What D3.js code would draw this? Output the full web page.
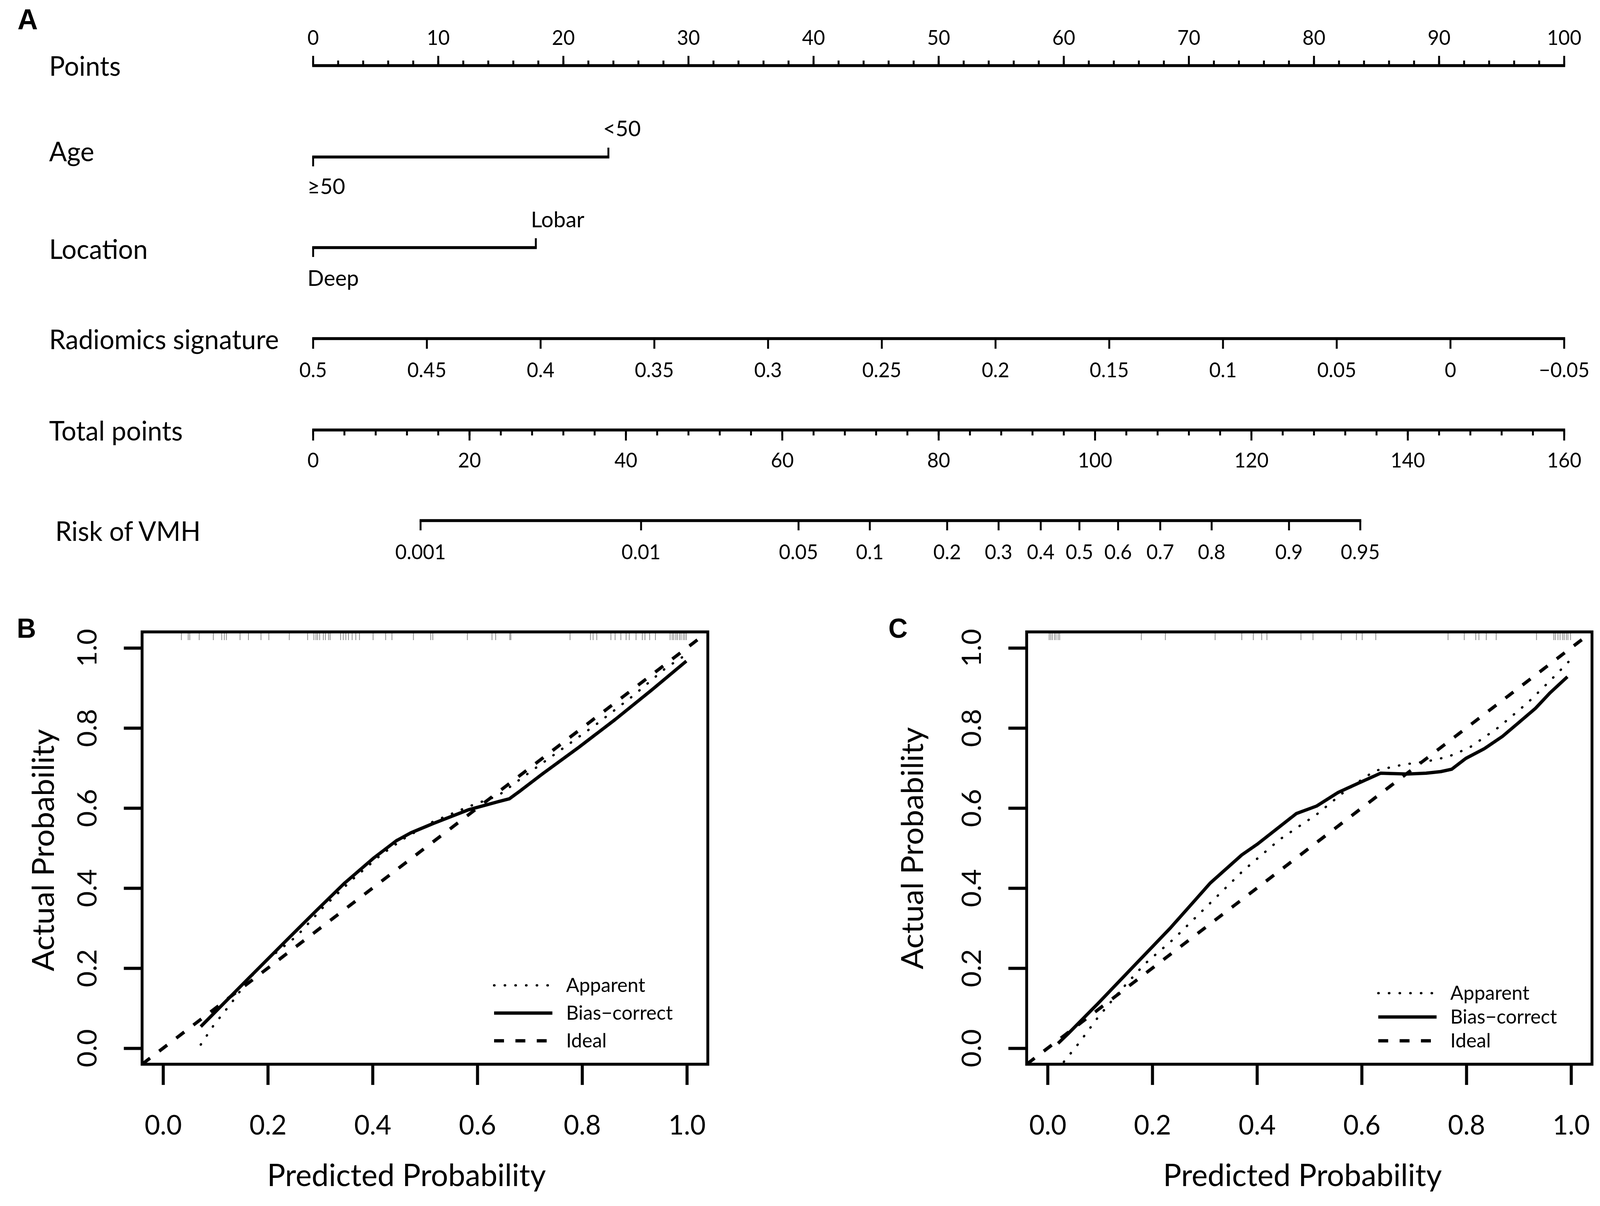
<!DOCTYPE html>
<html>
<head>
<meta charset="utf-8">
<script src="https://cdn.jsdelivr.net/npm/d3@7"></script>
<style>
  html, body { margin: 0; padding: 0; overflow: hidden; background: #fff; }
  svg { display: block; width: 100vw; height: 100vh; }
  text { font-family: Lato, "Open Sans", sans-serif; fill: #000; }
  .letter { font-family: "Liberation Sans", Arial, sans-serif; font-weight: bold; }
</style>
</head>
<body>
<svg id="fig" viewBox="0 0 4200 3088" preserveAspectRatio="none"></svg>
<script>
// ---------- Panel A : nomogram ----------
var pointsTicks = [0, 10, 20, 30, 40, 50, 60, 70, 80, 90, 100];
var ageLevels = ["≥50", "<50"];
var agePoints = [0, 23.6];
var locationLevels = ["Deep", "Lobar"];
var locationPoints = [0, 17.8];
var radiomicsTicks = [0.5, 0.45, 0.4, 0.35, 0.3, 0.25, 0.2, 0.15, 0.1, 0.05, 0, -0.05];
var radiomicsLabels = ["0.5", "0.45", "0.4", "0.35", "0.3", "0.25", "0.2", "0.15", "0.1", "0.05", "0", "−0.05"];
var totalTicks = [0, 20, 40, 60, 80, 100, 120, 140, 160];
var riskTicks = [0.001, 0.01, 0.05, 0.1, 0.2, 0.3, 0.4, 0.5, 0.6, 0.7, 0.8, 0.9, 0.95];
var riskLabels = ["0.001", "0.01", "0.05", "0.1", "0.2", "0.3", "0.4", "0.5", "0.6", "0.7", "0.8", "0.9", "0.95"];
// total points where risk = 0.5, and total points per unit of log-odds
var riskMidPoints = 98.0;
var riskPointsPerLogit = 12.2;

// ---------- Panels B / C : calibration ----------
var probTicks = [0, 0.2, 0.4, 0.6, 0.8, 1.0];
var probLabels = ["0.0", "0.2", "0.4", "0.6", "0.8", "1.0"];

var trainApparentX = [0.072, 0.096, 0.131, 0.166, 0.201, 0.256, 0.305, 0.361, 0.416, 0.458, 0.514, 0.584, 0.640, 0.688, 0.758, 0.828, 0.897, 0.960, 0.995];
var trainApparentY = [0.009, 0.056, 0.114, 0.176, 0.223, 0.281, 0.351, 0.421, 0.483, 0.522, 0.565, 0.604, 0.631, 0.678, 0.744, 0.810, 0.880, 0.950, 0.980];
var trainBiasX = [0.072, 0.103, 0.159, 0.236, 0.292, 0.347, 0.403, 0.445, 0.473, 0.515, 0.584, 0.640, 0.661, 0.682, 0.724, 0.793, 0.863, 0.933, 0.999];
var trainBiasY = [0.054, 0.095, 0.169, 0.270, 0.343, 0.413, 0.476, 0.518, 0.538, 0.561, 0.596, 0.616, 0.623, 0.643, 0.685, 0.751, 0.821, 0.895, 0.967];
var trainRug = [0.035, 0.048, 0.051, 0.069, 0.096, 0.112, 0.117, 0.121, 0.147, 0.163, 0.187, 0.202, 0.241, 0.276, 0.288, 0.292, 0.295, 0.299, 0.306, 0.310, 0.316, 0.319, 0.339, 0.344, 0.349, 0.354, 0.361, 0.368, 0.375, 0.401, 0.425, 0.437, 0.478, 0.511, 0.515, 0.581, 0.628, 0.635, 0.662, 0.664, 0.777, 0.816, 0.821, 0.828, 0.855, 0.863, 0.874, 0.884, 0.890, 0.903, 0.915, 0.920, 0.929, 0.940, 0.968, 0.972, 0.975, 0.979, 0.982, 0.986, 0.989, 0.993, 0.996, 0.999];

var testApparentX = [0.031, 0.060, 0.095, 0.137, 0.186, 0.241, 0.311, 0.374, 0.444, 0.514, 0.569, 0.625, 0.681, 0.723, 0.765, 0.806, 0.862, 0.918, 0.960, 0.995];
var testApparentY = [-0.034, 0.013, 0.075, 0.141, 0.211, 0.273, 0.363, 0.444, 0.522, 0.584, 0.643, 0.693, 0.709, 0.716, 0.728, 0.751, 0.802, 0.864, 0.918, 0.965];
var testBiasX = [0.020, 0.039, 0.095, 0.158, 0.235, 0.311, 0.371, 0.402, 0.475, 0.514, 0.555, 0.597, 0.636, 0.688, 0.723, 0.751, 0.772, 0.799, 0.834, 0.869, 0.897, 0.932, 0.960, 0.993];
var testBiasY = [0.012, 0.036, 0.110, 0.196, 0.301, 0.413, 0.483, 0.511, 0.586, 0.605, 0.639, 0.664, 0.687, 0.685, 0.687, 0.691, 0.697, 0.724, 0.748, 0.779, 0.810, 0.849, 0.888, 0.928];
var testRug = [0.003, 0.006, 0.009, 0.013, 0.016, 0.020, 0.023, 0.179, 0.225, 0.320, 0.371, 0.393, 0.409, 0.419, 0.484, 0.507, 0.561, 0.590, 0.601, 0.627, 0.765, 0.796, 0.818, 0.824, 0.838, 0.857, 0.934, 0.967, 0.970, 0.975, 0.979, 0.984, 0.987, 0.991, 0.994, 0.999];

var legendNames = ["Apparent", "Bias−correct", "Ideal"];

var svg = d3.select("#fig");

// panel letters
svg.append("text").attr("class", "letter").attr("x", 46).attr("y", 75).attr("font-size", 74).text("A");
svg.append("text").attr("class", "letter").attr("x", 44).attr("y", 1633).attr("font-size", 70).text("B");
svg.append("text").attr("class", "letter").attr("x", 2332).attr("y", 1633).attr("font-size", 70).text("C");

// ---------- nomogram ----------
var xPts = d3.scaleLinear().domain([0, 100]).range([822, 4106]);
var xTotal = d3.scaleLinear().domain([0, 160]).range([822, 4106]);
var xRad = d3.scaleLinear().domain([0.5, -0.05]).range([822, 4106]);
function riskToPoints(p) { return riskMidPoints + riskPointsPerLogit * Math.log(p / (1 - p)); }

var nomo = svg.append("g");
var hW = 7.5, vW = 5;

function rowLabel(text, x, y) {
  nomo.append("text").attr("x", x).attr("y", y).attr("font-size", 69).text(text);
}
function hLine(x1, x2, y) {
  nomo.append("line").attr("x1", x1 - vW / 2).attr("x2", x2 + vW / 2).attr("y1", y).attr("y2", y)
    .attr("stroke", "#000").attr("stroke-width", hW);
}
function ticks(xs, y, len) {
  nomo.append("g").selectAll("line").data(xs).join("line")
    .attr("x1", d => d).attr("x2", d => d).attr("y1", y).attr("y2", y + len)
    .attr("stroke", "#000").attr("stroke-width", vW);
}
function tickText(xs, labels, y, size) {
  nomo.append("g").selectAll("text").data(xs).join("text")
    .attr("x", d => d).attr("y", y).attr("text-anchor", "middle")
    .attr("font-size", size).text((d, i) => labels[i]);
}

// Points
rowLabel("Points", 129, 194);
hLine(xPts(0), xPts(100), 168);
ticks(d3.range(0, 101, 2).map(xPts), 168, -13);
ticks(pointsTicks.map(xPts), 168, -25);
tickText(pointsTicks.map(xPts), pointsTicks.map(String), 115, 52);

// Age
rowLabel("Age", 129, 413);
hLine(xPts(agePoints[0]), xPts(agePoints[1]), 402);
ticks([xPts(agePoints[0])], 402, 24);
ticks([xPts(agePoints[1])], 402, -24);
nomo.append("text").attr("x", xPts(agePoints[1]) - 14).attr("y", 349).attr("font-size", 57).text(ageLevels[1]);
nomo.append("text").attr("x", xPts(agePoints[0]) - 15).attr("y", 497).attr("font-size", 57).text(ageLevels[0]);

// Location
rowLabel("Location", 129, 663);
hLine(xPts(locationPoints[0]), xPts(locationPoints[1]), 634);
ticks([xPts(locationPoints[0])], 634, 24);
ticks([xPts(locationPoints[1])], 634, -24);
nomo.append("text").attr("x", xPts(locationPoints[1]) - 13).attr("y", 582).attr("font-size", 57).text(locationLevels[1]);
nomo.append("text").attr("x", xPts(locationPoints[0]) - 15).attr("y", 732).attr("font-size", 57).text(locationLevels[0]);

// Radiomics signature
rowLabel("Radiomics signature", 129, 894);
hLine(xRad(0.5), xRad(-0.05), 867);
ticks(radiomicsTicks.map(xRad), 867, 26);
tickText(radiomicsTicks.map(xRad), radiomicsLabels, 966, 52);

// Total points
rowLabel("Total points", 129, 1128);
hLine(xTotal(0), xTotal(160), 1101);
ticks(d3.range(0, 161, 4).map(xTotal), 1101, 14);
ticks(totalTicks.map(xTotal), 1101, 27);
tickText(totalTicks.map(xTotal), totalTicks.map(String), 1197, 52);

// Risk of VMH
rowLabel("Risk of VMH", 145, 1385);
var riskX = riskTicks.map(p => xTotal(riskToPoints(p)));
hLine(riskX[0], riskX[riskX.length - 1], 1333);
ticks(riskX, 1333, 25);
tickText(riskX, riskLabels, 1432, 52);

// ---------- calibration panels ----------
var lineStyles = [
  { dash: "1,27", w: 6, cap: "round" },   // apparent (dotted)
  { dash: null, w: 8.5, cap: "butt" },    // bias-corrected (solid)
  { dash: "26,30", w: 8.5, cap: "butt" }  // ideal (dashed)
];

function calPanel(cfg) {
  var x = d3.scaleLinear().domain([-0.04, 1.04]).range([cfg.left, cfg.right]);
  var y = d3.scaleLinear().domain([-0.04, 1.04]).range([cfg.bottom, cfg.top]);
  var g = svg.append("g");

  g.append("clipPath").attr("id", cfg.id + "-clip").append("rect")
    .attr("x", cfg.left).attr("y", cfg.top)
    .attr("width", cfg.right - cfg.left).attr("height", cfg.bottom - cfg.top);

  // rug of predicted probabilities along the top
  g.append("g").selectAll("line").data(cfg.rug).join("line")
    .attr("x1", d => x(d)).attr("x2", d => x(d))
    .attr("y1", cfg.top).attr("y2", cfg.top + 21)
    .attr("stroke", "#8a8a8a").attr("stroke-width", 2);

  var plot = g.append("g").attr("clip-path", "url(#" + cfg.id + "-clip)");
  var line = d3.line().x(d => x(d[0])).y(d => y(d[1]));
  var series = [d3.zip(cfg.appX, cfg.appY), d3.zip(cfg.biasX, cfg.biasY), [[-0.04, -0.04], [1.04, 1.04]]];

  plot.selectAll("path").data(series).join("path")
    .attr("d", line).attr("fill", "none").attr("stroke", "#000")
    .attr("stroke-width", (d, i) => lineStyles[i].w)
    .attr("stroke-dasharray", (d, i) => lineStyles[i].dash)
    .attr("stroke-linecap", (d, i) => lineStyles[i].cap)
    .attr("stroke-linejoin", "round");

  // box
  g.append("rect").attr("x", cfg.left).attr("y", cfg.top)
    .attr("width", cfg.right - cfg.left).attr("height", cfg.bottom - cfg.top)
    .attr("fill", "none").attr("stroke", "#000").attr("stroke-width", 7.5);

  // x axis
  var xa = g.append("g").attr("transform", "translate(0," + cfg.bottom + ")")
    .call(d3.axisBottom(x).tickValues(probTicks).tickSize(53).tickFormat((d, i) => probLabels[i]));
  xa.select(".domain").remove();
  xa.selectAll(".tick line").attr("stroke", "#000").attr("stroke-width", 8);
  xa.selectAll(".tick text").attr("dy", null).attr("y", 180).attr("font-size", 70)
    .attr("font-family", null);

  // y axis (labels rotated like base R)
  var ya = g.append("g").attr("transform", "translate(" + cfg.left + ",0)")
    .call(d3.axisLeft(y).tickValues(probTicks).tickSize(48).tickFormat(""));
  ya.select(".domain").remove();
  ya.selectAll(".tick line").attr("stroke", "#000").attr("stroke-width", 8);
  g.append("g").selectAll("text").data(probTicks).join("text")
    .attr("transform", (d) => "translate(" + (cfg.left - 120) + "," + y(d) + ") rotate(-90)")
    .attr("text-anchor", "middle").attr("font-size", 70)
    .text((d, i) => probLabels[i]);

  // titles
  g.append("text").attr("x", cfg.xTitleX).attr("y", 3037).attr("text-anchor", "middle")
    .attr("font-size", 80).text("Predicted Probability");
  g.append("text")
    .attr("transform", "translate(" + cfg.yTitleX + "," + cfg.yTitleY + ") rotate(-90)")
    .attr("text-anchor", "middle").attr("font-size", 80).text("Actual Probability");

  // legend
  var leg = g.append("g");
  leg.selectAll("line").data(legendNames).join("line")
    .attr("x1", cfg.legX).attr("x2", cfg.legX + 153)
    .attr("y1", (d, i) => cfg.legY[i]).attr("y2", (d, i) => cfg.legY[i])
    .attr("stroke", "#000")
    .attr("stroke-width", (d, i) => lineStyles[i].w)
    .attr("stroke-dasharray", (d, i) => lineStyles[i].dash)
    .attr("stroke-linecap", (d, i) => lineStyles[i].cap);
  leg.selectAll("text").data(legendNames).join("text")
    .attr("x", cfg.legX + 189).attr("y", (d, i) => cfg.legY[i]).attr("dy", "0.34em")
    .attr("font-size", 51).text(d => d);
}

calPanel({
  id: "train", left: 373, right: 1858, top: 1618, bottom: 2725,
  appX: trainApparentX, appY: trainApparentY, biasX: trainBiasX, biasY: trainBiasY, rug: trainRug,
  xTitleX: 1067, yTitleX: 141, yTitleY: 2177,
  legX: 1297, legY: [2523, 2594, 2665]
});
calPanel({
  id: "test", left: 2695, right: 4179, top: 1618, bottom: 2725,
  appX: testApparentX, appY: testApparentY, biasX: testBiasX, biasY: testBiasY, rug: testRug,
  xTitleX: 3419, yTitleX: 2423, yTitleY: 2172,
  legX: 3618, legY: [2543, 2604, 2665]
});
</script>
</body>
</html>
